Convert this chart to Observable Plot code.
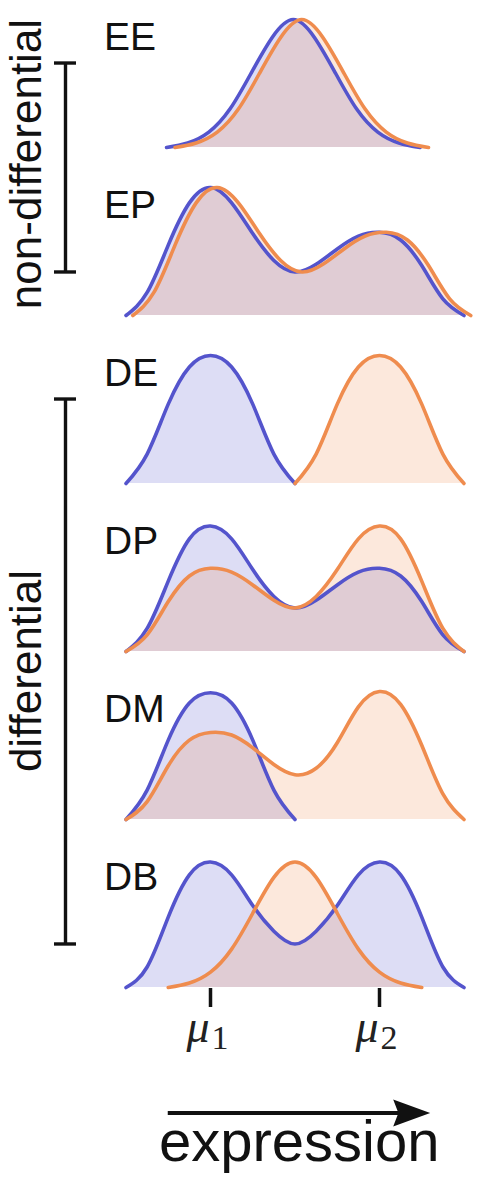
<!DOCTYPE html>
<html>
<head>
<meta charset="utf-8">
<script src="https://cdn.jsdelivr.net/npm/d3@7"></script>
<script src="https://cdn.jsdelivr.net/npm/@observablehq/plot@0.6"></script>
<style>
  html, body { margin: 0; padding: 0; background: #fff; }
  #chart svg { display: block; }
</style>
</head>
<body>
<div id="chart"></div>
<script>
// ---- data ----
const panels = ["EE", "EP", "DE", "DP", "DM", "DB"];
const conditions = ["condition 1", "condition 2"];
const expression = [0, 0.25, 0.5, 0.75, 1, 1.25, 1.5, 1.75, 2, 2.25, 2.5, 2.75, 3, 3.25, 3.5, 3.75, 4];

const eeCond1 = [null, null, 0, 0.035, 0.12, 0.30, 0.58, 0.86, 1.00, 0.86, 0.58, 0.30, 0.12, 0.035, 0, null, null];
const eeCond2 = [null, null, 0, 0.035, 0.12, 0.30, 0.58, 0.86, 1.00, 0.86, 0.58, 0.30, 0.12, 0.035, 0, null, null];
const epCond1 = [0, 0.18, 0.55, 0.88, 1.00, 0.88, 0.64, 0.43, 0.34, 0.40, 0.52, 0.62, 0.65, 0.59, 0.39, 0.13, 0];
const epCond2 = [0, 0.18, 0.55, 0.88, 1.00, 0.88, 0.64, 0.43, 0.34, 0.40, 0.52, 0.62, 0.65, 0.59, 0.39, 0.13, 0];
const deCond1 = [0, 0.23, 0.62, 0.91, 1.00, 0.91, 0.62, 0.23, 0, null, null, null, null, null, null, null, null];
const deCond2 = [null, null, null, null, null, null, null, null, 0, 0.23, 0.62, 0.91, 1.00, 0.91, 0.62, 0.23, 0];
const dpCond1 = [0, 0.18, 0.55, 0.88, 0.98, 0.88, 0.64, 0.43, 0.34, 0.40, 0.52, 0.62, 0.65, 0.59, 0.39, 0.13, 0];
const dpCond2 = [0, 0.13, 0.39, 0.59, 0.65, 0.62, 0.52, 0.40, 0.34, 0.43, 0.64, 0.88, 0.98, 0.88, 0.55, 0.18, 0];
const dmCond1 = [0, 0.23, 0.62, 0.91, 0.99, 0.91, 0.62, 0.23, 0, null, null, null, null, null, null, null, null];
const dmCond2 = [0, 0.14, 0.42, 0.62, 0.68, 0.66, 0.56, 0.43, 0.35, 0.40, 0.60, 0.88, 1.00, 0.90, 0.58, 0.20, 0];
const dbCond1 = [0, 0.16, 0.55, 0.88, 0.98, 0.88, 0.64, 0.44, 0.34, 0.44, 0.64, 0.88, 0.98, 0.88, 0.55, 0.16, 0];
const dbCond2 = [null, null, 0, 0.035, 0.12, 0.30, 0.58, 0.86, 0.98, 0.86, 0.58, 0.30, 0.12, 0.035, 0, null, null];

// small shift of each condition along the expression axis, per panel
const shiftCond1 = [-0.02, 0, 0, 0, 0, 0];
const shiftCond2 = [0.08, 0.08, 0, 0, 0, 0];

const tickValues = [1, 3];
const tickSymbols = ["μ", "μ"];
const tickSubscripts = ["1", "2"];

const groupLabels = ["non-differential", "differential"];
const groupFirst = ["EE", "DE"];
const groupMiddle = ["DP", "DM"];
const groupLast = ["EP", "DB"];
const bracketEnds = [0.66, 0.34];

const arrowSpan = [0.5, 3.6];
const axisTitle = "expression";

// ---- build the table ----
const curves = {
  EE: [eeCond1, eeCond2], EP: [epCond1, epCond2], DE: [deCond1, deCond2],
  DP: [dpCond1, dpCond2], DM: [dmCond1, dmCond2], DB: [dbCond1, dbCond2]
};
const rows = [];
panels.forEach((p, k) => {
  curves[p].forEach((vals, j) => {
    const shift = j === 0 ? shiftCond1[k] : shiftCond2[k];
    vals.forEach((v, i) => {
      if (v != null) rows.push({panel: p, condition: conditions[j], x: expression[i] + shift, density: v});
    });
  });
});

const blue = "#5454cc";
const orange = "#ef8c4e";
const ink = "#111";
const sans = "Liberation Sans, Arial, Helvetica, sans-serif";
const serif = "Liberation Serif, Times New Roman, serif";

const arrowHead = {
  draw(context, size) {
    const r = Math.sqrt(size / Math.PI);
    context.moveTo(r, 0);
    context.lineTo(-r, -0.73 * r);
    context.lineTo(-0.72 * r, 0);
    context.lineTo(-r, 0.73 * r);
    context.closePath();
  }
};

const chart = Plot.plot({
  width: 477,
  height: 1180,
  marginTop: 0,
  marginBottom: 169,
  marginLeft: 125.5,
  marginRight: 13.5,
  x: {domain: [0, 4], axis: null},
  y: {domain: [0, 1], range: [145, 17], axis: null},
  fy: {domain: panels, axis: null, padding: 0},
  color: {domain: conditions, range: [blue, orange]},
  marks: [
    Plot.areaY(rows, {x: "x", y1: 0, y2: "density", z: "condition", fill: "condition", fillOpacity: 0.2, fy: "panel", curve: "natural"}),
    Plot.lineY(rows, {x: "x", y: "density", z: "condition", stroke: "condition", strokeWidth: 3.6, fy: "panel", curve: "natural"}),
    // panel labels
    Plot.text(panels, {fy: d => d, text: d => d, frameAnchor: "top-left", dx: -22, dy: 47,
      textAnchor: "start", lineAnchor: "bottom", fontSize: 39, fontFamily: sans, fill: ink}),
    // group brackets
    Plot.ruleX(groupFirst, {x: () => 0, fy: d => d, dx: -60.5, insetTop: 60.5, stroke: ink, strokeWidth: 3.4}),
    Plot.ruleX(groupMiddle, {x: () => 0, fy: d => d, dx: -60.5, stroke: ink, strokeWidth: 3.4}),
    Plot.ruleX(groupLast, {x: () => 0, fy: d => d, dx: -60.5, insetBottom: 67, stroke: ink, strokeWidth: 3.4}),
    Plot.ruleY(groupFirst, {y: () => bracketEnds[0], fy: d => d, insetLeft: -71.5, insetRight: 387.5, stroke: ink, strokeWidth: 3.4}),
    Plot.ruleY(groupLast, {y: () => bracketEnds[1], fy: d => d, insetLeft: -71.5, insetRight: 387.5, stroke: ink, strokeWidth: 3.4}),
    // group labels
    Plot.text([groupLabels[0]], {fy: () => "EE", text: d => d, frameAnchor: "top-left", rotate: -90, dx: -85.5, dy: 161.5,
      textAnchor: "middle", lineAnchor: "bottom", fontSize: 44, fontFamily: sans, fill: ink}),
    Plot.text([groupLabels[1]], {fy: () => "DP", text: d => d, frameAnchor: "top-left", rotate: -90, dx: -85.5, dy: 164.5,
      textAnchor: "middle", lineAnchor: "bottom", fontSize: 44, fontFamily: sans, fill: ink}),
    // expression axis ticks and labels
    Plot.tickX(tickValues, {x: d => d, fy: () => "DB", insetTop: 146, insetBottom: 3, stroke: ink, strokeWidth: 3.5}),
    Plot.text(tickValues, {x: d => d, fy: () => "DB", text: (d, i) => tickSymbols[i], frameAnchor: "bottom", dx: -1, dy: 31,
      textAnchor: "end", lineAnchor: "bottom", fontSize: 46, fontStyle: "italic", fontFamily: serif, fill: "#222"}),
    Plot.text(tickValues, {x: d => d, fy: () => "DB", text: (d, i) => tickSubscripts[i], frameAnchor: "bottom", dx: 1, dy: 38,
      textAnchor: "start", lineAnchor: "bottom", fontSize: 34, fontFamily: serif, fill: "#222"}),
    // axis arrow and title
    Plot.ruleY([arrowSpan], {x1: d => d[0], x2: d => d[1], y: () => 0, fy: () => "DB", dy: 125.5, insetRight: 18, stroke: ink, strokeWidth: 4}),
    Plot.dot([arrowSpan], {x: d => d[1], y: () => 0, fy: () => "DB", dx: -18.5, dy: 125.5, r: 18.5, symbol: arrowHead, fill: ink, stroke: "none"}),
    Plot.text([axisTitle], {x: () => (arrowSpan[0] + arrowSpan[1]) / 2, fy: () => "DB", text: d => d, frameAnchor: "bottom", dy: 150,
      textAnchor: "middle", lineAnchor: "bottom", fontSize: 58, fontFamily: sans, fill: ink})
  ]
});
document.getElementById("chart").appendChild(chart);
</script>
</body>
</html>
